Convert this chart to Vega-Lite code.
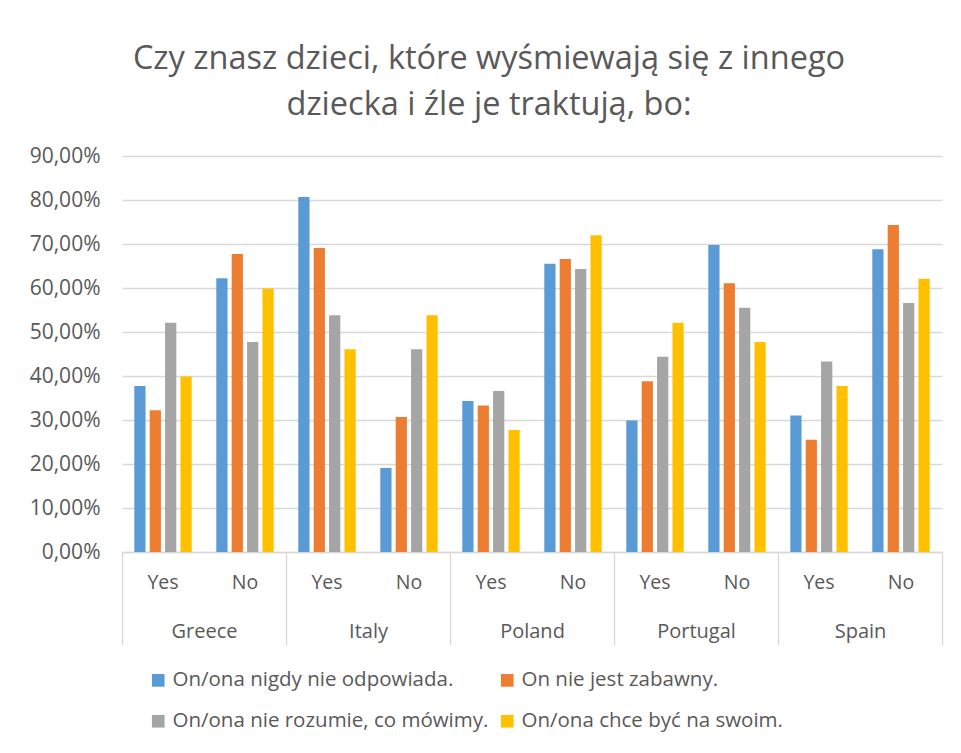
{
  "$schema": "https://vega.github.io/schema/vega-lite/v6.json",
  "autosize": {"type": "none"},
  "width": 820,
  "height": 396,
  "padding": {"left": 122, "top": 156, "right": 19, "bottom": 201},
  "background": "white",
  "title": {
    "text": ["Czy znasz dzieci, które wyśmiewają się z innego", "dziecka i źle je traktują, bo:"],
    "fontSize": 32.5,
    "font": "Open Sans",
    "fontWeight": "normal",
    "color": "#595959",
    "anchor": "middle",
    "dx": -43,
    "lineHeight": 46,
    "offset": 24
  },
  "data": {
    "values": [
      {"country": "Greece", "answer": "Yes", "series": "On/ona nigdy nie odpowiada.", "value": 0.377},
      {"country": "Greece", "answer": "Yes", "series": "On nie jest zabawny.", "value": 0.322},
      {"country": "Greece", "answer": "Yes", "series": "On/ona nie rozumie, co mówimy.", "value": 0.521},
      {"country": "Greece", "answer": "Yes", "series": "On/ona chce być na swoim.", "value": 0.399},
      {"country": "Greece", "answer": "No", "series": "On/ona nigdy nie odpowiada.", "value": 0.622},
      {"country": "Greece", "answer": "No", "series": "On nie jest zabawny.", "value": 0.677},
      {"country": "Greece", "answer": "No", "series": "On/ona nie rozumie, co mówimy.", "value": 0.477},
      {"country": "Greece", "answer": "No", "series": "On/ona chce być na swoim.", "value": 0.599},
      {"country": "Italy", "answer": "Yes", "series": "On/ona nigdy nie odpowiada.", "value": 0.807},
      {"country": "Italy", "answer": "Yes", "series": "On nie jest zabawny.", "value": 0.691},
      {"country": "Italy", "answer": "Yes", "series": "On/ona nie rozumie, co mówimy.", "value": 0.538},
      {"country": "Italy", "answer": "Yes", "series": "On/ona chce być na swoim.", "value": 0.461},
      {"country": "Italy", "answer": "No", "series": "On/ona nigdy nie odpowiada.", "value": 0.191},
      {"country": "Italy", "answer": "No", "series": "On nie jest zabawny.", "value": 0.307},
      {"country": "Italy", "answer": "No", "series": "On/ona nie rozumie, co mówimy.", "value": 0.461},
      {"country": "Italy", "answer": "No", "series": "On/ona chce być na swoim.", "value": 0.538},
      {"country": "Poland", "answer": "Yes", "series": "On/ona nigdy nie odpowiada.", "value": 0.343},
      {"country": "Poland", "answer": "Yes", "series": "On nie jest zabawny.", "value": 0.333},
      {"country": "Poland", "answer": "Yes", "series": "On/ona nie rozumie, co mówimy.", "value": 0.366},
      {"country": "Poland", "answer": "Yes", "series": "On/ona chce być na swoim.", "value": 0.277},
      {"country": "Poland", "answer": "No", "series": "On/ona nigdy nie odpowiada.", "value": 0.655},
      {"country": "Poland", "answer": "No", "series": "On nie jest zabawny.", "value": 0.666},
      {"country": "Poland", "answer": "No", "series": "On/ona nie rozumie, co mówimy.", "value": 0.643},
      {"country": "Poland", "answer": "No", "series": "On/ona chce być na swoim.", "value": 0.72},
      {"country": "Portugal", "answer": "Yes", "series": "On/ona nigdy nie odpowiada.", "value": 0.299},
      {"country": "Portugal", "answer": "Yes", "series": "On nie jest zabawny.", "value": 0.388},
      {"country": "Portugal", "answer": "Yes", "series": "On/ona nie rozumie, co mówimy.", "value": 0.444},
      {"country": "Portugal", "answer": "Yes", "series": "On/ona chce być na swoim.", "value": 0.521},
      {"country": "Portugal", "answer": "No", "series": "On/ona nigdy nie odpowiada.", "value": 0.698},
      {"country": "Portugal", "answer": "No", "series": "On nie jest zabawny.", "value": 0.611},
      {"country": "Portugal", "answer": "No", "series": "On/ona nie rozumie, co mówimy.", "value": 0.555},
      {"country": "Portugal", "answer": "No", "series": "On/ona chce być na swoim.", "value": 0.477},
      {"country": "Spain", "answer": "Yes", "series": "On/ona nigdy nie odpowiada.", "value": 0.31},
      {"country": "Spain", "answer": "Yes", "series": "On nie jest zabawny.", "value": 0.255},
      {"country": "Spain", "answer": "Yes", "series": "On/ona nie rozumie, co mówimy.", "value": 0.433},
      {"country": "Spain", "answer": "Yes", "series": "On/ona chce być na swoim.", "value": 0.377},
      {"country": "Spain", "answer": "No", "series": "On/ona nigdy nie odpowiada.", "value": 0.688},
      {"country": "Spain", "answer": "No", "series": "On nie jest zabawny.", "value": 0.743},
      {"country": "Spain", "answer": "No", "series": "On/ona nie rozumie, co mówimy.", "value": 0.566},
      {"country": "Spain", "answer": "No", "series": "On/ona chce być na swoim.", "value": 0.621}
    ]
  },
  "transform": [{"calculate": "datum.country + '|' + datum.answer", "as": "key"}],
  "layer": [
    {
      "mark": {"type": "bar"},
      "encoding": {
        "x": {
          "field": "key",
          "type": "nominal",
          "sort": null,
          "scale": {
            "domain": ["Greece|Yes", "Greece|No", "Italy|Yes", "Italy|No", "Poland|Yes", "Poland|No", "Portugal|Yes", "Portugal|No", "Spain|Yes", "Spain|No"],
            "paddingInner": 0.3,
            "paddingOuter": 0.15
          },
          "axis": {
            "orient": "bottom",
            "title": null,
            "labelAngle": 0,
            "labelExpr": "split(datum.value, '|')[1]",
            "ticks": false,
            "domain": false,
            "labelPadding": 21,
            "labelFontSize": 19.5,
            "labelFont": "Open Sans",
            "labelColor": "#595959"
          }
        },
        "xOffset": {
          "field": "series",
          "type": "nominal",
          "sort": null,
          "scale": {
            "domain": ["On/ona nigdy nie odpowiada.", "On nie jest zabawny.", "On/ona nie rozumie, co mówimy.", "On/ona chce być na swoim."],
            "paddingInner": 0.27,
            "paddingOuter": 0
          }
        },
        "y": {
          "field": "value",
          "type": "quantitative",
          "scale": {"domain": [0, 0.9], "nice": false},
          "axis": {
            "title": null,
            "values": [0, 0.1, 0.2, 0.3, 0.4, 0.5, 0.6, 0.7, 0.8, 0.9],
            "labelExpr": "replace(format(datum.value, '.2%'), '.', ',')",
            "domain": false,
            "ticks": false,
            "labelPadding": 22,
            "labelFontSize": 21,
            "labelFont": "Open Sans",
            "labelColor": "#595959",
            "gridColor": "#d9d9d9",
            "gridWidth": 1.3
          }
        },
        "color": {
          "field": "series",
          "type": "nominal",
          "sort": null,
          "scale": {
            "domain": ["On/ona nigdy nie odpowiada.", "On nie jest zabawny.", "On/ona nie rozumie, co mówimy.", "On/ona chce być na swoim."],
            "range": ["#5b9bd5", "#ed7d31", "#a5a5a5", "#ffc000"]
          },
          "legend": {
            "orient": "none",
            "legendX": 26,
            "legendY": 514,
            "direction": "horizontal",
            "columns": 2,
            "title": null,
            "symbolType": "square",
            "symbolSize": 160,
            "symbolStrokeWidth": 0,
            "labelFontSize": 20.5,
            "labelFont": "Open Sans",
            "labelColor": "#595959",
            "labelLimit": 400,
            "rowPadding": 20,
            "columnPadding": 8,
            "labelOffset": 4
          }
        }
      }
    },
    {
      "mark": {"type": "rule", "strokeOpacity": 0},
      "encoding": {
        "x": {
          "field": "country",
          "type": "nominal",
          "sort": null,
          "scale": {"domain": ["Greece", "Italy", "Poland", "Portugal", "Spain"], "paddingInner": 0, "paddingOuter": 0},
          "axis": {
            "orient": "bottom",
            "title": null,
            "labelAngle": 0,
            "tickBand": "extent",
            "tickSize": 93,
            "tickColor": "#d9d9d9",
            "tickWidth": 1.3,
            "domainColor": "#d9d9d9",
            "domainWidth": 1.3,
            "labelPadding": -24,
            "labelFontSize": 20,
            "labelFont": "Open Sans",
            "labelColor": "#595959"
          }
        }
      }
    }
  ],
  "resolve": {"scale": {"x": "independent"}},
  "config": {"view": {"stroke": null}}
}
